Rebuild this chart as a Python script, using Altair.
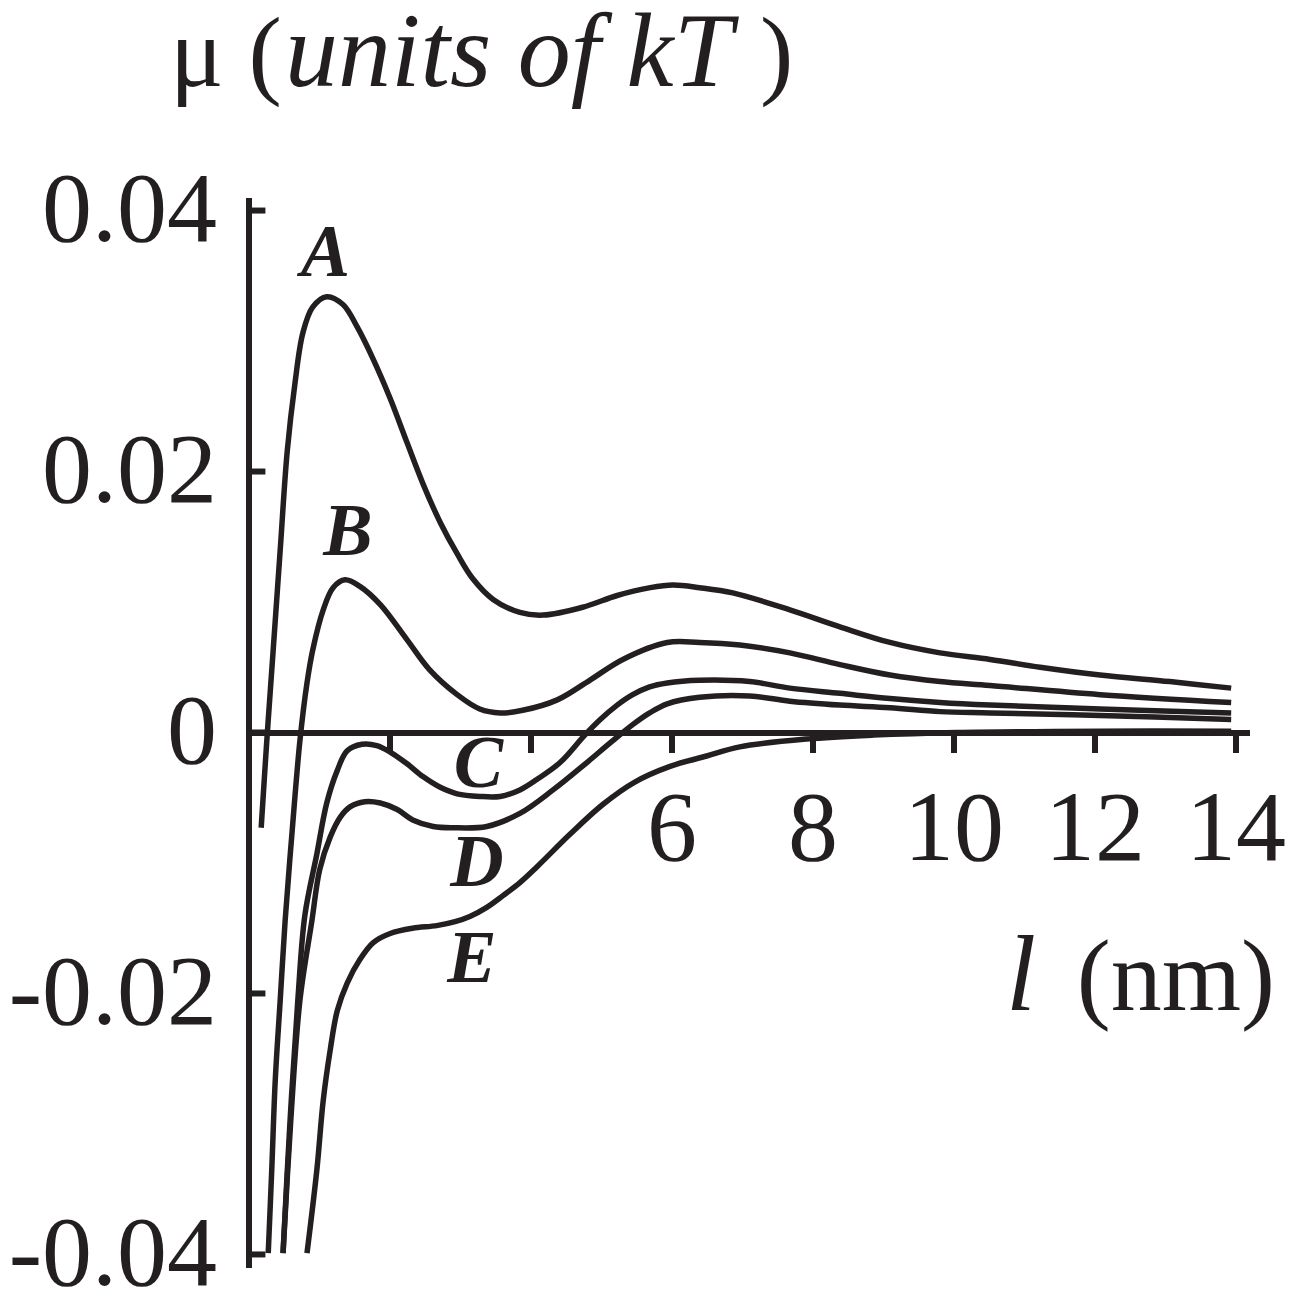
import altair as alt
import pandas as pd

# ---------------- data ----------------
A_x = [0.18, 0.26, 0.35, 0.45, 0.55, 0.66, 0.77, 0.91, 1.11, 1.34, 1.54, 1.77, 2.01, 2.25, 2.48,
       2.72, 2.96, 3.18, 3.47, 3.85, 4.18, 4.74, 5.23, 5.70, 6.02, 6.40, 6.87, 7.68, 8.39, 9.10,
       9.81, 10.52, 11.23, 12.08, 13.07, 13.94]
A_y = [-0.0073, -0.0006, 0.0063, 0.0140, 0.0216, 0.0268, 0.0306, 0.0326, 0.0334, 0.0328, 0.0311,
       0.0286, 0.0256, 0.0222, 0.0190, 0.0161, 0.0137, 0.0118, 0.0102, 0.0092, 0.0090, 0.0096,
       0.0105, 0.0111, 0.0113, 0.0111, 0.0107, 0.0094, 0.0081, 0.0069, 0.0061, 0.0056, 0.0050,
       0.0044, 0.0039, 0.0034]

B_x = [0.28, 0.33, 0.38, 0.45, 0.52, 0.62, 0.73, 0.83, 0.91, 1.06, 1.20, 1.37, 1.58, 1.87, 2.25,
       2.57, 2.96, 3.28, 3.57, 3.89, 4.38, 4.84, 5.31, 5.94, 6.40, 6.97, 7.68, 8.39, 9.10, 9.81,
       10.52, 12.08, 13.94]
B_y = [-0.0399, -0.0335, -0.0266, -0.0205, -0.0144, -0.0075, -0.0006, 0.0038, 0.0063, 0.0094,
       0.0111, 0.0117, 0.0112, 0.0098, 0.0071, 0.0048, 0.0029, 0.0018, 0.0015, 0.0017, 0.0025,
       0.0040, 0.0056, 0.0069, 0.0069, 0.0067, 0.0061, 0.0052, 0.0044, 0.0039, 0.0036, 0.0029,
       0.0023]

C_x = [0.49, 0.59, 0.70, 0.80, 0.97, 1.11, 1.26, 1.40, 1.61, 1.82, 2.01, 2.25, 2.48, 2.72, 2.96,
       3.28, 3.57, 3.85, 4.09, 4.42, 4.77, 4.99, 5.23, 5.45, 5.69, 5.94, 6.40, 7.11, 7.68, 8.39,
       9.10, 9.81, 10.52, 12.08, 13.94]
C_y = [-0.0399, -0.0297, -0.0205, -0.0140, -0.0093, -0.0054, -0.0029, -0.0014, -0.0009, -0.0010,
       -0.0015, -0.0024, -0.0034, -0.0042, -0.0047, -0.0049, -0.0049, -0.0044, -0.0036, -0.0023,
       -0.0002, 0.0010, 0.0021, 0.0029, 0.0035, 0.0038, 0.0040, 0.0039, 0.0034, 0.0030, 0.0026,
       0.0023, 0.0021, 0.0018, 0.0015]

D_x = [0.49, 0.60, 0.73, 0.90, 1.01, 1.16, 1.30, 1.44, 1.65, 1.87, 2.11, 2.33, 2.62, 2.90, 3.38,
       3.85, 4.32, 4.80, 5.13, 5.45, 5.69, 5.94, 6.40, 7.11, 7.68, 8.39, 9.10, 9.81, 10.52, 12.08,
       13.94]
D_y = [-0.0399, -0.0297, -0.0205, -0.0144, -0.0105, -0.0080, -0.0065, -0.0057, -0.0053, -0.0054,
       -0.0059, -0.0067, -0.0072, -0.0073, -0.0072, -0.0062, -0.0044, -0.0023, -0.0008, 0.0006,
       0.0015, 0.0022, 0.0027, 0.0028, 0.0024, 0.0021, 0.0019, 0.0016, 0.0015, 0.0013, 0.0010]

E_x = [0.83, 0.97, 1.06, 1.16, 1.26, 1.40, 1.58, 1.77, 2.01, 2.33, 2.67, 2.93, 3.14, 3.38, 3.61,
       3.85, 4.09, 4.56, 5.03, 5.48, 5.98, 6.50, 6.97, 7.92, 8.86, 10.05, 12.08, 13.94]
E_y = [-0.0399, -0.0335, -0.0282, -0.0243, -0.0213, -0.0192, -0.0174, -0.0161, -0.0154, -0.0150,
       -0.0148, -0.0145, -0.0141, -0.0134, -0.0125, -0.0115, -0.0103, -0.0078, -0.0055, -0.0038,
       -0.0026, -0.0018, -0.0011, -0.0005, -0.0002, 0.0000, 0.0001, 0.0001]

curve_names = ["A", "B", "C", "D", "E"]
label_x = [1.09, 1.41, 3.26, 3.24, 3.17]
label_y = [0.0367, 0.0153, -0.0025, -0.0101, -0.0174]

x_ticks = [2, 4, 6, 8, 10, 12, 14]
y_ticks = [-0.04, -0.02, 0, 0.02, 0.04]

# ---------------- tables ----------------
rows = []
for name, xs, ys in zip(curve_names, [A_x, B_x, C_x, D_x, E_x], [A_y, B_y, C_y, D_y, E_y]):
    for i, (xv, yv) in enumerate(zip(xs, ys)):
        rows.append({"curve": name, "x": xv, "y": yv, "i": i})
df = pd.DataFrame(rows)
labels_df = pd.DataFrame({"name": curve_names, "x": label_x, "y": label_y})
ytick_df = pd.DataFrame({"y": y_ticks, "x0": [0.0] * 5, "x1": [0.24] * 5})

INK = "#231f20"
FONT = "Liberation Serif"
W, H = 1001, 1070
xscale = alt.Scale(domain=[0, 14.2], nice=False, zero=False)
yscale = alt.Scale(domain=[-0.041, 0.041], nice=False, zero=False)

lines = alt.Chart(df).mark_line(interpolate="catmull-rom", strokeWidth=5.5, color=INK).encode(
    x=alt.X("x:Q", scale=xscale, axis=alt.Axis(
        title=None, values=x_ticks, offset=-535, tickSize=20, tickWidth=6, tickColor=INK,
        domainWidth=6, domainColor=INK, grid=False, labelFont=FONT, labelFontSize=100,
        labelColor=INK, labelPadding=28, labelFlush=False, labelOverlap=False, labelLimit=400,
        labelExpr="datum.value >= 6 ? format(datum.value, 'd') : ''")),
    y=alt.Y("y:Q", scale=yscale, axis=alt.Axis(
        title=None, values=y_ticks, ticks=False, domainWidth=6, domainColor=INK, grid=False,
        labelFont=FONT, labelFontSize=100, labelColor=INK, labelPadding=32, labelFlush=False,
        labelOverlap=False, labelLimit=400,
        labelExpr="datum.value == 0 ? '0\u00a0' : (datum.value < 0 ? '-' + format(-datum.value, '.2f') : format(datum.value, '.2f'))")),
    detail="curve:N",
    order="i:Q",
)

yticks = alt.Chart(ytick_df).mark_rule(strokeWidth=6, color=INK).encode(
    x=alt.X("x0:Q", scale=xscale), x2="x1:Q", y=alt.Y("y:Q", scale=yscale))

curve_labels = alt.Chart(labels_df).mark_text(
    font=FONT, fontSize=74, fontStyle="italic", fontWeight="bold", color=INK,
    align="center", baseline="middle").encode(
    x=alt.X("x:Q", scale=xscale), y=alt.Y("y:Q", scale=yscale), text="name:N")


def txt(s, x, y, italic=False, align="left", size=96):
    return alt.Chart(pd.DataFrame({"t": [s]})).mark_text(
        font=FONT, fontSize=size, fontStyle="italic" if italic else "normal", color=INK,
        align=align, baseline="alphabetic").encode(
        x=alt.value(x), y=alt.value(y), text="t:N")


title_parts = [
    txt("μ (", -78.5, -111.5, size=100),
    txt("units of kT", 36.5, -111.5, italic=True, size=106),
    txt(")", 511.5, -111.5, size=100),
    txt("l", 757.5, 812.5, italic=True, size=108),
    txt("(nm)", 1026.5, 812.5, align="right", size=102),
]

chart = alt.layer(lines, yticks, curve_labels, *title_parts).properties(
    width=W, height=H,
    autosize=alt.AutoSizeParams(type="none"),
    padding={"left": 240.5, "top": 189.5, "right": 40, "bottom": 25},
).configure_view(stroke=None)

chart.save("out.html", embed_options={"renderer": "svg", "actions": False})
